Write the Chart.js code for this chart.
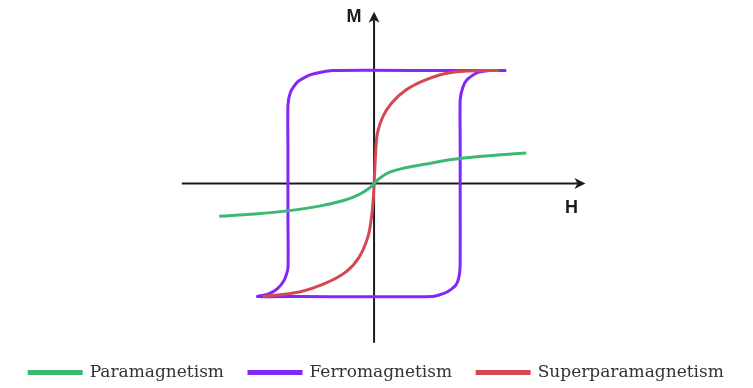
<!DOCTYPE html>
<html>
<head>
<meta charset="utf-8">
<script src="https://cdn.jsdelivr.net/npm/chart.js@4.4.1/dist/chart.umd.min.js"></script>
<style>
  body { margin: 0; background: #fff; }
  canvas { display: block; }
</style>
</head>
<body>
<canvas id="grafico" width="753" height="388"></canvas>
<script>
// H en unidades de Hc, M en unidades de Ms
var nombres = ["Paramagnetism", "Ferromagnetism", "Superparamagnetism"];
var colores = ["rgb(60, 184, 112)", "rgb(132, 38, 250)", "rgb(212, 72, 84)"];

var paraH = [-1.78, -1.37, -0.97, -0.63, -0.35, -0.18, -0.06, 0, 0.06, 0.18, 0.35, 0.58, 0.87, 1.21, 1.75];
var paraM = [-0.29, -0.27, -0.24, -0.20, -0.15, -0.10, -0.044, 0, 0.044, 0.10, 0.137, 0.17, 0.21, 0.24, 0.27];

var ferroH = [1.52, 0.75, -0.48, -0.74, -0.88, -0.96, -0.99, -0.99, -0.99, -0.99, -1.03, -1.11, -1.22, -1.34,
              -0.86, 0.67, 0.84, 0.94, 0.98, 0.99, 0.99, 0.99, 0.99, 1.02, 1.07, 1.18, 1.33, 1.52];
var ferroM = [1.00, 1.00, 1.00, 0.96, 0.90, 0.81, 0.69, 0.30, -0.32, -0.75, -0.85, -0.93, -0.98, -1.00,
              -1.00, -1.00, -0.96, -0.90, -0.81, -0.69, -0.15, 0.38, 0.74, 0.85, 0.92, 0.98, 1.00, 1.00];

var superH = [-1.28, -0.86, -0.55, -0.32, -0.17, -0.07, -0.03, -0.01, 0, 0.01, 0.02, 0.04, 0.10, 0.20, 0.37, 0.60, 0.87, 1.25, 1.44];
var superM = [-1.00, -0.96, -0.88, -0.78, -0.65, -0.47, -0.30, -0.15, 0, 0.15, 0.30, 0.45, 0.59, 0.71, 0.83, 0.92, 0.98, 1.00, 1.00];

// ejes
var ejeH = [-2.21, 2.43];
var ejeM = [-1.41, 1.52];

function puntos(hs, ms) {
    var lista = [];
    for (let i = 0; i < hs.length; i++) {
        lista.push({x: hs[i], y: ms[i]});
    }
    return lista;
}

function curva(i, hs, ms, orden, tension) {
    return {
        label: nombres[i],
        data: puntos(hs, ms),
        showLine: true,
        borderColor: colores[i],
        backgroundColor: colores[i],
        borderWidth: 3,
        pointRadius: 0,
        tension: tension,
        order: orden,
        clip: false
    };
}

var ejes = {
    id: "ejes",
    afterDatasetsDraw(chart) {
        var ctx = chart.ctx;
        var sx = chart.scales.x, sy = chart.scales.y;
        var x0 = sx.getPixelForValue(0), y0 = sy.getPixelForValue(0);
        var xt = sx.getPixelForValue(ejeH[1]);
        var yt = sy.getPixelForValue(ejeM[1]);
        ctx.save();
        ctx.fillStyle = "#1b1b1b";
        // flecha H
        ctx.beginPath();
        ctx.moveTo(xt, y0);
        ctx.lineTo(xt - 11, y0 - 5.5);
        ctx.lineTo(xt - 8, y0);
        ctx.lineTo(xt - 11, y0 + 5.5);
        ctx.closePath();
        ctx.fill();
        // flecha M
        ctx.beginPath();
        ctx.moveTo(x0, yt);
        ctx.lineTo(x0 - 5.5, yt + 11);
        ctx.lineTo(x0, yt + 8);
        ctx.lineTo(x0 + 5.5, yt + 11);
        ctx.closePath();
        ctx.fill();
        ctx.font = "bold 18px 'Liberation Sans'";
        ctx.textAlign = "center";
        ctx.textBaseline = "middle";
        ctx.fillText("M", sx.getPixelForValue(-0.23), sy.getPixelForValue(1.47));
        ctx.fillText("H", sx.getPixelForValue(2.27), sy.getPixelForValue(-0.22));
        ctx.restore();
    }
};

var ctx = document.getElementById("grafico").getContext("2d");
var chart = new Chart(ctx, {
    type: "scatter",
    data: {
        datasets: [
            curva(0, paraH, paraM, 0, 0.4),
            curva(1, ferroH, ferroM, 2, 0.2),
            curva(2, superH, superM, 1, 0.35),
            {label: "ejeH", data: puntos([ejeH[0], ejeH[1] - 8 / 87], [0, 0]), showLine: true,
             borderColor: "#1b1b1b", borderWidth: 2, pointRadius: 0, order: 3, clip: false},
            {label: "ejeM", data: puntos([0, 0], [ejeM[0], ejeM[1] - 8 / 113]), showLine: true,
             borderColor: "#1b1b1b", borderWidth: 2, pointRadius: 0, order: 3, clip: false}
        ]
    },
    options: {
        responsive: false,
        animation: false,
        layout: { padding: { left: 0, right: 0, top: 0, bottom: -3 } },
        scales: {
            x: { type: "linear", display: false, min: -4.3, max: 4.356 },
            y: { type: "linear", display: false, min: -1.376, max: 1.624 }
        },
        plugins: {
            tooltip: { enabled: false },
            legend: {
                position: "bottom",
                labels: {
                    filter: (item) => item.datasetIndex < 3,
                    sort: (a, b) => a.datasetIndex - b.datasetIndex,
                    boxWidth: 52,
                    boxHeight: 2,
                    padding: 25,
                    color: "#333",
                    font: { family: "'DejaVu Serif'", size: 17 }
                }
            }
        }
    },
    plugins: [ejes]
});
</script>
</body>
</html>
